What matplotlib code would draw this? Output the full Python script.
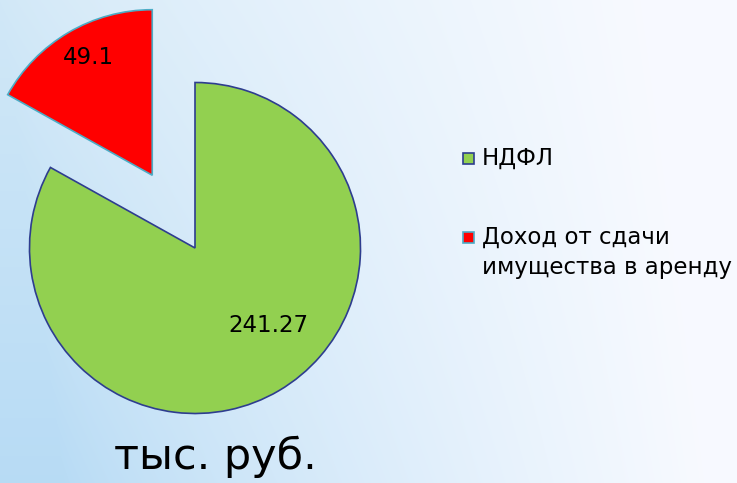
import numpy as np
import matplotlib
matplotlib.use("Agg")
import matplotlib.pyplot as plt
from matplotlib.patches import Rectangle

# data
labels = ["НДФЛ", "Доход от сдачи\nимущества в аренду"]
values = [241.27, 49.1]
value_text = ["241.27", "49.1"]
colors = ["#92D050", "#FF0000"]
edges = ["#2E3D8F", "#4BACC6"]

R = 165.5
explode = [0, 0.51 * R]

fig = plt.figure(figsize=(7.37, 4.83), dpi=100)

# background gradient (light blue left -> white right)
bg = fig.add_axes([0, 0, 1, 1])
bg.set_axis_off()
w, h = 737, 483
xx = np.linspace(0, 1, w)
yy = np.linspace(0, 1, h)[:, None]
t = np.clip(xx[None, :] * 1.15 - 0.1 * yy, 0, 1) ** 0.8
left_top = np.array([0.82, 0.91, 0.97])
left_bot = np.array([0.72, 0.86, 0.96])
left = left_top + (left_bot - left_top) * yy[..., None]
right = np.array([0.97, 0.98, 1.0])
img = left * (1 - t[..., None]) + right * t[..., None]
bg.imshow(img, extent=(0, w, 0, h), aspect="auto")

ax = fig.add_axes([0, 0, 1, 1])

wedges, _ = ax.pie(values, colors=colors, explode=explode, startangle=90,
                   counterclock=False, center=(195, 235), radius=R,
                   wedgeprops=dict(linewidth=1.2))
for wd, ec in zip(wedges, edges):
    wd.set_edgecolor(ec)

ax.set_xlim(0, w)
ax.set_ylim(0, h)
ax.set_aspect("equal")
ax.set_axis_off()

ax.text(268, 483 - 326, value_text[0], fontsize=16.5, ha="center", va="center")
ax.text(88, 483 - 58, value_text[1], fontsize=16.5, ha="center", va="center")

# legend
leg_y = [158, 237]
for y, c, ec, lab in zip(leg_y, colors, edges, labels):
    ax.add_patch(Rectangle((463, 483 - y - 5.5), 11, 11, facecolor=c,
                           edgecolor=ec, linewidth=1.2))
    ax.text(482, 483 - y + 11, lab, fontsize=16.5, ha="left", va="top",
            linespacing=1.4)

ax.text(215, 483 - 457, "тыс. руб.", fontsize=31, ha="center", va="center")

fig.savefig("out.png", dpi=100)
